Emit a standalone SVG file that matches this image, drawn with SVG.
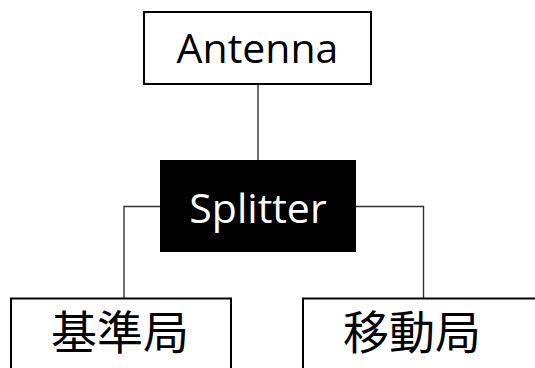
<svg xmlns="http://www.w3.org/2000/svg" width="535" height="368" viewBox="0 0 535 368">
  <style>
    .box { fill: #ffffff; stroke: #000000; stroke-width: 2; }
    .dark { fill: #000000; stroke: none; }
    .wire { fill: none; stroke: #333333; stroke-width: 1.4; }
    .lbl { font-family: "Open Sans", "Noto Sans", sans-serif; font-size: 41px; text-anchor: middle; fill: #000000; }
    .lbl-inv { fill: #ffffff; }
    .cjk { font-family: "Noto Sans CJK JP", "Noto Sans CJK SC", sans-serif; font-size: 46px; text-anchor: middle; fill: #000000; }
  </style>

  <g id="connectors">
    <line class="wire" x1="258" y1="84" x2="258" y2="160"/>
    <polyline class="wire" points="160,206.5 124,206.5 124,298"/>
    <polyline class="wire" points="356,206.5 423.5,206.5 423.5,298"/>
  </g>

  <g id="antenna">
    <rect class="box" x="144" y="12" width="227" height="72"/>
    <text class="lbl" x="257.5" y="63">Antenna</text>
  </g>

  <g id="splitter">
    <rect class="dark" x="160" y="160" width="196" height="92"/>
    <text class="lbl lbl-inv" x="258" y="222.5">Splitter</text>
  </g>

  <g id="base-station">
    <rect class="box" x="11" y="298.5" width="220" height="80"/>
    <text class="cjk" x="120" y="349">基準局</text>
  </g>

  <g id="mobile-station">
    <rect class="box" x="303" y="298.5" width="250" height="80"/>
    <text class="cjk" x="412" y="349">移動局</text>
  </g>
</svg>
